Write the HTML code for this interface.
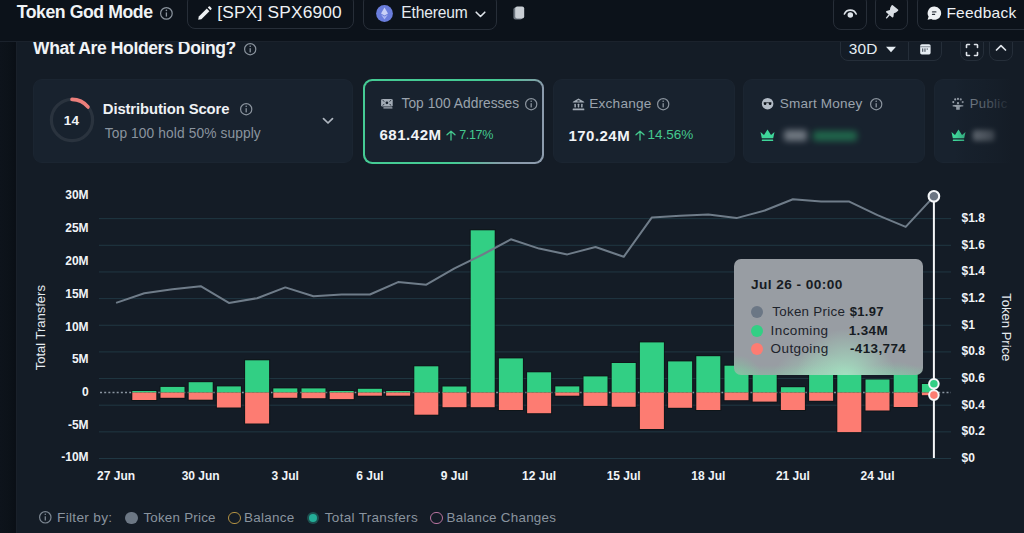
<!DOCTYPE html>
<html><head><meta charset="utf-8"><title>Token God Mode</title><style>*{margin:0;padding:0;box-sizing:border-box}
html,body{width:1024px;height:533px;overflow:hidden;background:#0c121a;font-family:"Liberation Sans",sans-serif}
.a{position:absolute}
.t{position:absolute;line-height:1;white-space:nowrap}
.ax{font-family:"Liberation Sans",sans-serif;font-size:12px;font-weight:700;fill:#f0f3f6}
.axt{font-family:"Liberation Sans",sans-serif;font-size:13px;font-weight:400;fill:#e6ebf0}
.tip{border-radius:7px;background:radial-gradient(ellipse 50px 50px at 112px 120px,rgba(165,230,195,0.95),rgba(165,230,195,0) 100%),radial-gradient(ellipse 40px 30px at 78px 120px,rgba(160,225,190,0.55),rgba(160,225,190,0) 100%),radial-gradient(ellipse 26px 22px at 2px 118px,rgba(120,212,160,0.7),rgba(120,212,160,0) 100%),radial-gradient(ellipse 30px 16px at 160px 118px,rgba(130,212,170,0.45),rgba(130,212,170,0) 100%),linear-gradient(to top,rgba(130,210,165,0.3),rgba(130,210,165,0) 10px),#989da3}
</style></head><body>
<div class="a" style="left:16.0px;top:42.0px;width:1008.0px;height:491.0px;background:#141c26;border-left:1px solid #19202a"></div>
<div class="t" style="left:33.1px;top:39.93px;font-size:17.57px;font-weight:700;color:#f0f3f6;letter-spacing:-0.400px;">What Are Holders Doing?</div>
<svg class="a" style="left:242.6px;top:41.9px" width="14.4" height="14.4" viewBox="-7.2 -7.2 14.4 14.4"><circle r="5.6000000000000005" fill="none" stroke="#8b949e" stroke-width="1.2"/><rect x="-0.65" y="-1" width="1.3" height="4.2" fill="#8b949e"/><circle cy="-3" r="0.8" fill="#8b949e"/></svg>
<div class="a" style="left:840.4px;top:34.0px;width:101.4px;height:26.5px;border:1px solid #252e39;border-radius:8px"></div>
<div class="a" style="left:907.5px;top:34.0px;width:1.0px;height:26.5px;background:#252e39"></div>
<div class="t" style="left:848.7px;top:40.86px;font-size:15.4px;font-weight:400;color:#e6edf3;letter-spacing:0.250px;">30D</div>
<svg class="a" style="left:885px;top:46px" width="12" height="7"><path d="M1 0.8 L11 0.8 L6 6.2 Z" fill="#e6edf3"/></svg>
<svg class="a" style="left:919.6px;top:43.6px" width="11" height="11" viewBox="0 0 11 11"><rect x="0.2" y="0.2" width="10.4" height="10.2" rx="1.6" fill="#e6edf3"/><rect x="0.2" y="2.4" width="10.4" height="0.8" fill="#6a737d"/><rect x="2" y="4.4" width="1.3" height="3.4" fill="#5c6570"/><rect x="4.3" y="4.4" width="1.3" height="3.4" fill="#5c6570"/><rect x="6.6" y="4.4" width="1.3" height="1.3" fill="#5c6570"/></svg>
<div class="a" style="left:960.4px;top:34.0px;width:23.4px;height:26.5px;border:1px solid #252e39;border-radius:8px"></div>
<div class="a" style="left:988.8px;top:34.0px;width:24.6px;height:26.5px;border:1px solid #252e39;border-radius:8px"></div>
<svg class="a" style="left:965.3px;top:42.8px" width="14" height="14" viewBox="0 0 14 14" fill="none" stroke="#dfe4ea" stroke-width="1.6" stroke-linecap="round"><path d="M1.5 4.5V2.2Q1.5 1.5 2.2 1.5H4.5M9.5 1.5H11.8Q12.5 1.5 12.5 2.2V4.5M12.5 9.5V11.8Q12.5 12.5 11.8 12.5H9.5M4.5 12.5H2.2Q1.5 12.5 1.5 11.8V9.5"/></svg>
<svg class="a" style="left:994px;top:43px" width="14" height="10" viewBox="0 0 14 10" fill="none" stroke="#dfe4ea" stroke-width="1.7" stroke-linecap="round" stroke-linejoin="round"><path d="M2.5 7L7 2.6L11.5 7"/></svg>
<div class="a" style="left:33.0px;top:78.8px;width:320.4px;height:84.5px;background:#18222e;border-radius:9px;border:1px solid #1b2531"></div>
<div class="a" style="left:363.4px;top:78.8px;width:180.7px;height:84.8px;background:linear-gradient(117deg,#45cb94 0%,#45cb94 60%,#8a9aab 82%,#8d9cad 100%);border-radius:9px"></div>
<div class="a" style="left:365.2px;top:80.6px;width:177.1px;height:81.2px;background:#18222e;border-radius:7.5px"></div>
<div class="a" style="left:553.1px;top:78.8px;width:181.7px;height:84.5px;background:#18222e;border-radius:9px;border:1px solid #1b2531"></div>
<div class="a" style="left:742.9px;top:78.8px;width:182.3px;height:84.5px;background:#18222e;border-radius:9px;border:1px solid #1b2531"></div>
<div class="a" style="left:933.8px;top:78.8px;width:106.2px;height:84.5px;background:#18222e;border-radius:9px;border:1px solid #1b2531"></div>
<svg class="a" style="left:48px;top:95.5px" width="48" height="48" viewBox="-24 -24 48 48"><circle r="20.6" fill="none" stroke="#2a333e" stroke-width="3.2"/><circle r="20.6" fill="none" stroke="#ec7f7b" stroke-width="3.6" stroke-linecap="round" stroke-dasharray="18.12 129.43" transform="rotate(-90)"/></svg>
<div class="t" style="left:63.7px;top:113.82px;font-size:13.56px;font-weight:700;color:#f0f3f6;letter-spacing:0.400px;">14</div>
<div class="t" style="left:102.8px;top:101.54px;font-size:14.84px;font-weight:700;color:#eef1f4;letter-spacing:-0.112px;">Distribution Score</div>
<svg class="a" style="left:238.6px;top:101.8px" width="14.4" height="14.4" viewBox="-7.2 -7.2 14.4 14.4"><circle r="5.6000000000000005" fill="none" stroke="#8b949e" stroke-width="1.2"/><rect x="-0.65" y="-1" width="1.3" height="4.2" fill="#8b949e"/><circle cy="-3" r="0.8" fill="#8b949e"/></svg>
<div class="t" style="left:104.7px;top:127.25px;font-size:13.76px;font-weight:400;color:#8a949f;letter-spacing:0.109px;">Top 100 hold 50% supply</div>
<svg class="a" style="left:320.5px;top:116.2px" width="14" height="10" viewBox="0 0 14 10" fill="none" stroke="#aeb6bf" stroke-width="1.7" stroke-linecap="round" stroke-linejoin="round"><path d="M2.5 2.6L7 7L11.5 2.6"/></svg>
<svg class="a" style="left:380px;top:98px" width="14" height="12" viewBox="0 0 14 12" fill="#a3acb6"><rect x="1.1" y="0.9" width="11.6" height="7.7" rx="1.4"/><rect x="3.3" y="9.3" width="9.2" height="1.2" rx="0.5"/><circle cx="6.9" cy="4.8" r="1.35" fill="#18222e"/><path d="M2.6 2.2Q3.8 2.6 4.2 3.6M11.2 2.2Q10 2.6 9.6 3.6M2.6 7.3Q3.8 6.9 4.2 5.9M11.2 7.3Q10 6.9 9.6 5.9" stroke="#18222e" stroke-width="0.9" fill="none"/></svg>
<div class="t" style="left:401.5px;top:97.06px;font-size:13.75px;font-weight:400;color:#9aa3ad;letter-spacing:0.038px;">Top 100 Addresses</div>
<svg class="a" style="left:524.4px;top:97.2px" width="14.4" height="14.4" viewBox="-7.2 -7.2 14.4 14.4"><circle r="5.6000000000000005" fill="none" stroke="#8b949e" stroke-width="1.2"/><rect x="-0.65" y="-1" width="1.3" height="4.2" fill="#8b949e"/><circle cy="-3" r="0.8" fill="#8b949e"/></svg>
<div class="t" style="left:379.4px;top:127.47px;font-size:15.04px;font-weight:700;color:#f0f3f6;letter-spacing:0.533px;">681.42M</div>
<svg class="a" style="left:445.4px;top:129.6px" width="12" height="11.0" viewBox="-6 -1 12 11.0"><path d="M0 0.2V9.0M-4.0 3.8L0 0.2L4.0 3.8" fill="none" stroke="#44c98e" stroke-width="1.3" stroke-linecap="round" stroke-linejoin="round"/></svg>
<div class="t" style="left:459.2px;top:129.14px;font-size:12.59px;font-weight:400;color:#44c98e;letter-spacing:-0.375px;">7.17%</div>
<svg class="a" style="left:571.5px;top:97.5px" width="13" height="13" viewBox="0 0 13 13" fill="#a3acb6"><path d="M0.7 4.3Q0.7 3.7 1.3 3.4L6.5 0.6L11.7 3.4Q12.3 3.7 12.3 4.3V4.5H0.7Z"/><ellipse cx="6.5" cy="2.9" rx="1.3" ry="0.55" fill="#18222e"/><rect x="2.4" y="5.8" width="1.5" height="3.6" rx="0.4"/><rect x="5.75" y="5.8" width="1.5" height="3.6" rx="0.4"/><rect x="9.1" y="5.8" width="1.5" height="3.6" rx="0.4"/><rect x="0.7" y="10.6" width="11.6" height="1.6" rx="0.5"/></svg>
<div class="t" style="left:589.2px;top:97.15px;font-size:13.65px;font-weight:400;color:#9aa3ad;letter-spacing:0.229px;">Exchange</div>
<svg class="a" style="left:656.1px;top:97.2px" width="14.4" height="14.4" viewBox="-7.2 -7.2 14.4 14.4"><circle r="5.6000000000000005" fill="none" stroke="#8b949e" stroke-width="1.2"/><rect x="-0.65" y="-1" width="1.3" height="4.2" fill="#8b949e"/><circle cy="-3" r="0.8" fill="#8b949e"/></svg>
<div class="t" style="left:568.5px;top:127.50px;font-size:15.0px;font-weight:700;color:#f0f3f6;letter-spacing:0.467px;">170.24M</div>
<svg class="a" style="left:633.9px;top:129.6px" width="12" height="11.0" viewBox="-6 -1 12 11.0"><path d="M0 0.2V9.0M-4.0 3.8L0 0.2L4.0 3.8" fill="none" stroke="#44c98e" stroke-width="1.3" stroke-linecap="round" stroke-linejoin="round"/></svg>
<div class="t" style="left:647.5px;top:128.46px;font-size:13.51px;font-weight:400;color:#44c98e;letter-spacing:0.000px;">14.56%</div>
<svg class="a" style="left:761px;top:97px" width="13" height="13" viewBox="0 0 13 13"><circle cx="6.6" cy="6.7" r="5.8" fill="#b3bcc6"/><path d="M2.7 5.3H5.4V6.4Q5.4 7.9 4.05 7.9Q2.7 7.9 2.7 6.4Z M7.7 5.3H10.4V6.4Q10.4 7.9 9.05 7.9Q7.7 7.9 7.7 6.4Z" fill="#0c1218"/><rect x="5.3" y="5.4" width="2.5" height="0.7" fill="#0c1218"/></svg>
<div class="t" style="left:779.8px;top:97.23px;font-size:13.55px;font-weight:400;color:#9aa3ad;letter-spacing:0.180px;">Smart Money</div>
<svg class="a" style="left:868.7px;top:96.8px" width="14.4" height="14.4" viewBox="-7.2 -7.2 14.4 14.4"><circle r="5.6000000000000005" fill="none" stroke="#8b949e" stroke-width="1.2"/><rect x="-0.65" y="-1" width="1.3" height="4.2" fill="#8b949e"/><circle cy="-3" r="0.8" fill="#8b949e"/></svg>
<svg class="a" style="left:760px;top:128.5px" width="15" height="12.5" viewBox="0 0 15 12.5"><path d="M0.5 3L4 6L7.5 0.5L11 6L14.5 3L13.2 9.3H1.8Z" fill="#3fd69a"/><rect x="1.8" y="10.4" width="11.4" height="1.7" rx="0.5" fill="#3fd69a"/></svg>
<div class="a" style="left:784.0px;top:130.0px;width:23.0px;height:11.0px;background:#c6ccd2;filter:blur(3px);border-radius:3px;opacity:.5"></div>
<div class="a" style="left:813.0px;top:131.0px;width:44.0px;height:10.0px;background:#27945f;filter:blur(3px);border-radius:3px;opacity:.6"></div>
<svg class="a" style="left:951px;top:97px" width="14" height="14" viewBox="0 0 14 14" fill="#9aa3ad"><circle cx="2.3" cy="5.1" r="1.05"/><circle cx="4.2" cy="2.4" r="1.05"/><circle cx="7" cy="1.9" r="1.05"/><circle cx="9.8" cy="2.4" r="1.05"/><circle cx="11.7" cy="5.1" r="1.05"/><circle cx="7" cy="6.2" r="1.15"/><path d="M1.6 8.2Q7 7.2 12.4 8.2L12.2 9.6Q9.5 9.4 8.8 10V12.8H5.2V10Q4.5 9.4 1.8 9.6Z"/></svg>
<div class="t" style="left:969.8px;top:97.43px;font-size:13.08px;font-weight:400;color:#9aa3ad;letter-spacing:0.350px;">Public</div>
<svg class="a" style="left:950.5px;top:128.5px" width="15" height="12.5" viewBox="0 0 15 12.5"><path d="M0.5 3L4 6L7.5 0.5L11 6L14.5 3L13.2 9.3H1.8Z" fill="#3fd69a"/><rect x="1.8" y="10.4" width="11.4" height="1.7" rx="0.5" fill="#3fd69a"/></svg>
<div class="a" style="left:973.0px;top:130.0px;width:22.0px;height:11.0px;background:#c6ccd2;filter:blur(2.5px);border-radius:3px;opacity:.6"></div>
<div class="a" style="left:955.0px;top:70.0px;width:69.0px;height:105.0px;background:linear-gradient(90deg,rgba(20,28,38,0) 0%,rgba(20,28,38,0.25) 14.5%,rgba(20,28,38,0.5) 43.5%,rgba(20,28,38,0.75) 65%,rgba(20,28,38,1) 83%)"></div>
<svg class="a" style="left:0;top:0" width="1024" height="533"><line x1="99" y1="458.5" x2="951" y2="458.5" stroke="#203743" stroke-width="1"/>
<line x1="99" y1="431.85" x2="951" y2="431.85" stroke="#203743" stroke-width="1"/>
<line x1="99" y1="405.2" x2="951" y2="405.2" stroke="#203743" stroke-width="1"/>
<line x1="99" y1="378.55" x2="951" y2="378.55" stroke="#203743" stroke-width="1"/>
<line x1="99" y1="351.9" x2="951" y2="351.9" stroke="#203743" stroke-width="1"/>
<line x1="99" y1="325.25" x2="951" y2="325.25" stroke="#203743" stroke-width="1"/>
<line x1="99" y1="298.6" x2="951" y2="298.6" stroke="#203743" stroke-width="1"/>
<line x1="99" y1="271.95" x2="951" y2="271.95" stroke="#203743" stroke-width="1"/>
<line x1="99" y1="245.3" x2="951" y2="245.3" stroke="#203743" stroke-width="1"/>
<line x1="99" y1="218.65" x2="951" y2="218.65" stroke="#203743" stroke-width="1"/>
<line x1="100" y1="392.5" x2="951" y2="392.5" stroke="#8a95a1" stroke-width="1.5" stroke-dasharray="2 2.17"/>
<rect x="131.3" y="390" width="26" height="11" fill="#0a100f" opacity="0.55"/>
<rect x="132.3" y="391" width="24" height="1.5" fill="#32cf84"/>
<rect x="132.3" y="392.5" width="24" height="7.5" fill="#fd7c72"/>
<rect x="132.3" y="392" width="24" height="1" fill="#7a8a60" opacity="0.35"/>
<rect x="159.5" y="385.9" width="26" height="12.9" fill="#0a100f" opacity="0.55"/>
<rect x="160.5" y="386.9" width="24" height="5.6" fill="#32cf84"/>
<rect x="160.5" y="392.5" width="24" height="5.3" fill="#fd7c72"/>
<rect x="160.5" y="392" width="24" height="1" fill="#7a8a60" opacity="0.35"/>
<rect x="187.7" y="381.2" width="26" height="19.5" fill="#0a100f" opacity="0.55"/>
<rect x="188.7" y="382.2" width="24" height="10.3" fill="#32cf84"/>
<rect x="188.7" y="392.5" width="24" height="7.2" fill="#fd7c72"/>
<rect x="188.7" y="392" width="24" height="1" fill="#7a8a60" opacity="0.35"/>
<rect x="215.9" y="385.4" width="26" height="23.1" fill="#0a100f" opacity="0.55"/>
<rect x="216.9" y="386.4" width="24" height="6.1" fill="#32cf84"/>
<rect x="216.9" y="392.5" width="24" height="15" fill="#fd7c72"/>
<rect x="216.9" y="392" width="24" height="1" fill="#7a8a60" opacity="0.35"/>
<rect x="244.1" y="359.3" width="26" height="65.2" fill="#0a100f" opacity="0.55"/>
<rect x="245.1" y="360.3" width="24" height="32.2" fill="#32cf84"/>
<rect x="245.1" y="392.5" width="24" height="31" fill="#fd7c72"/>
<rect x="245.1" y="392" width="24" height="1" fill="#7a8a60" opacity="0.35"/>
<rect x="272.3" y="387.4" width="26" height="11.4" fill="#0a100f" opacity="0.55"/>
<rect x="273.3" y="388.4" width="24" height="4.1" fill="#32cf84"/>
<rect x="273.3" y="392.5" width="24" height="5.3" fill="#fd7c72"/>
<rect x="273.3" y="392" width="24" height="1" fill="#7a8a60" opacity="0.35"/>
<rect x="300.5" y="387.4" width="26" height="11.8" fill="#0a100f" opacity="0.55"/>
<rect x="301.5" y="388.4" width="24" height="4.1" fill="#32cf84"/>
<rect x="301.5" y="392.5" width="24" height="5.7" fill="#fd7c72"/>
<rect x="301.5" y="392" width="24" height="1" fill="#7a8a60" opacity="0.35"/>
<rect x="328.7" y="390" width="26" height="10.1" fill="#0a100f" opacity="0.55"/>
<rect x="329.7" y="391" width="24" height="1.5" fill="#32cf84"/>
<rect x="329.7" y="392.5" width="24" height="6.6" fill="#fd7c72"/>
<rect x="329.7" y="392" width="24" height="1" fill="#7a8a60" opacity="0.35"/>
<rect x="356.9" y="387.8" width="26" height="8.9" fill="#0a100f" opacity="0.55"/>
<rect x="357.9" y="388.8" width="24" height="3.7" fill="#32cf84"/>
<rect x="357.9" y="392.5" width="24" height="3.2" fill="#fd7c72"/>
<rect x="357.9" y="392" width="24" height="1" fill="#7a8a60" opacity="0.35"/>
<rect x="385.1" y="390" width="26" height="6.7" fill="#0a100f" opacity="0.55"/>
<rect x="386.1" y="391" width="24" height="1.5" fill="#32cf84"/>
<rect x="386.1" y="392.5" width="24" height="3.2" fill="#fd7c72"/>
<rect x="386.1" y="392" width="24" height="1" fill="#7a8a60" opacity="0.35"/>
<rect x="413.3" y="365.3" width="26" height="50.4" fill="#0a100f" opacity="0.55"/>
<rect x="414.3" y="366.3" width="24" height="26.2" fill="#32cf84"/>
<rect x="414.3" y="392.5" width="24" height="22.2" fill="#fd7c72"/>
<rect x="414.3" y="392" width="24" height="1" fill="#7a8a60" opacity="0.35"/>
<rect x="441.5" y="385.5" width="26" height="22.7" fill="#0a100f" opacity="0.55"/>
<rect x="442.5" y="386.5" width="24" height="6" fill="#32cf84"/>
<rect x="442.5" y="392.5" width="24" height="14.7" fill="#fd7c72"/>
<rect x="442.5" y="392" width="24" height="1" fill="#7a8a60" opacity="0.35"/>
<rect x="469.7" y="229.3" width="26" height="178.9" fill="#0a100f" opacity="0.55"/>
<rect x="470.7" y="230.3" width="24" height="162.2" fill="#32cf84"/>
<rect x="470.7" y="392.5" width="24" height="14.7" fill="#fd7c72"/>
<rect x="470.7" y="392" width="24" height="1" fill="#7a8a60" opacity="0.35"/>
<rect x="497.9" y="357.4" width="26" height="53.6" fill="#0a100f" opacity="0.55"/>
<rect x="498.9" y="358.4" width="24" height="34.1" fill="#32cf84"/>
<rect x="498.9" y="392.5" width="24" height="17.5" fill="#fd7c72"/>
<rect x="498.9" y="392" width="24" height="1" fill="#7a8a60" opacity="0.35"/>
<rect x="526.1" y="371.3" width="26" height="42.9" fill="#0a100f" opacity="0.55"/>
<rect x="527.1" y="372.3" width="24" height="20.2" fill="#32cf84"/>
<rect x="527.1" y="392.5" width="24" height="20.7" fill="#fd7c72"/>
<rect x="527.1" y="392" width="24" height="1" fill="#7a8a60" opacity="0.35"/>
<rect x="554.3" y="385.4" width="26" height="11.3" fill="#0a100f" opacity="0.55"/>
<rect x="555.3" y="386.4" width="24" height="6.1" fill="#32cf84"/>
<rect x="555.3" y="392.5" width="24" height="3.2" fill="#fd7c72"/>
<rect x="555.3" y="392" width="24" height="1" fill="#7a8a60" opacity="0.35"/>
<rect x="582.5" y="375.4" width="26" height="31.5" fill="#0a100f" opacity="0.55"/>
<rect x="583.5" y="376.4" width="24" height="16.1" fill="#32cf84"/>
<rect x="583.5" y="392.5" width="24" height="13.4" fill="#fd7c72"/>
<rect x="583.5" y="392" width="24" height="1" fill="#7a8a60" opacity="0.35"/>
<rect x="610.7" y="362" width="26" height="45.8" fill="#0a100f" opacity="0.55"/>
<rect x="611.7" y="363" width="24" height="29.5" fill="#32cf84"/>
<rect x="611.7" y="392.5" width="24" height="14.3" fill="#fd7c72"/>
<rect x="611.7" y="392" width="24" height="1" fill="#7a8a60" opacity="0.35"/>
<rect x="638.9" y="341.4" width="26" height="88.6" fill="#0a100f" opacity="0.55"/>
<rect x="639.9" y="342.4" width="24" height="50.1" fill="#32cf84"/>
<rect x="639.9" y="392.5" width="24" height="36.5" fill="#fd7c72"/>
<rect x="639.9" y="392" width="24" height="1" fill="#7a8a60" opacity="0.35"/>
<rect x="667.1" y="360.4" width="26" height="48.4" fill="#0a100f" opacity="0.55"/>
<rect x="668.1" y="361.4" width="24" height="31.1" fill="#32cf84"/>
<rect x="668.1" y="392.5" width="24" height="15.3" fill="#fd7c72"/>
<rect x="668.1" y="392" width="24" height="1" fill="#7a8a60" opacity="0.35"/>
<rect x="695.3" y="355.2" width="26" height="55.8" fill="#0a100f" opacity="0.55"/>
<rect x="696.3" y="356.2" width="24" height="36.3" fill="#32cf84"/>
<rect x="696.3" y="392.5" width="24" height="17.5" fill="#fd7c72"/>
<rect x="696.3" y="392" width="24" height="1" fill="#7a8a60" opacity="0.35"/>
<rect x="723.5" y="364.7" width="26" height="36.5" fill="#0a100f" opacity="0.55"/>
<rect x="724.5" y="365.7" width="24" height="26.8" fill="#32cf84"/>
<rect x="724.5" y="392.5" width="24" height="7.7" fill="#fd7c72"/>
<rect x="724.5" y="392" width="24" height="1" fill="#7a8a60" opacity="0.35"/>
<rect x="751.7" y="367" width="26" height="35.6" fill="#0a100f" opacity="0.55"/>
<rect x="752.7" y="368" width="24" height="24.5" fill="#32cf84"/>
<rect x="752.7" y="392.5" width="24" height="9.1" fill="#fd7c72"/>
<rect x="752.7" y="392" width="24" height="1" fill="#7a8a60" opacity="0.35"/>
<rect x="779.9" y="386.2" width="26" height="24.8" fill="#0a100f" opacity="0.55"/>
<rect x="780.9" y="387.2" width="24" height="5.3" fill="#32cf84"/>
<rect x="780.9" y="392.5" width="24" height="17.5" fill="#fd7c72"/>
<rect x="780.9" y="392" width="24" height="1" fill="#7a8a60" opacity="0.35"/>
<rect x="808.1" y="345" width="26" height="56.8" fill="#0a100f" opacity="0.55"/>
<rect x="809.1" y="346" width="24" height="46.5" fill="#32cf84"/>
<rect x="809.1" y="392.5" width="24" height="8.3" fill="#fd7c72"/>
<rect x="809.1" y="392" width="24" height="1" fill="#7a8a60" opacity="0.35"/>
<rect x="836.3" y="339" width="26" height="94.1" fill="#0a100f" opacity="0.55"/>
<rect x="837.3" y="340" width="24" height="52.5" fill="#32cf84"/>
<rect x="837.3" y="392.5" width="24" height="39.6" fill="#fd7c72"/>
<rect x="837.3" y="392" width="24" height="1" fill="#7a8a60" opacity="0.35"/>
<rect x="864.5" y="378.5" width="26" height="33" fill="#0a100f" opacity="0.55"/>
<rect x="865.5" y="379.5" width="24" height="13" fill="#32cf84"/>
<rect x="865.5" y="392.5" width="24" height="18" fill="#fd7c72"/>
<rect x="865.5" y="392" width="24" height="1" fill="#7a8a60" opacity="0.35"/>
<rect x="892.7" y="365" width="26" height="43" fill="#0a100f" opacity="0.55"/>
<rect x="893.7" y="366" width="24" height="26.5" fill="#32cf84"/>
<rect x="893.7" y="392.5" width="24" height="14.5" fill="#fd7c72"/>
<rect x="893.7" y="392" width="24" height="1" fill="#7a8a60" opacity="0.35"/>
<rect x="920.9" y="383" width="14" height="13.2" fill="#0a100f" opacity="0.55"/>
<rect x="921.9" y="384" width="12" height="8.5" fill="#32cf84"/>
<rect x="921.9" y="392.5" width="12" height="2.7" fill="#fd7c72"/>
<rect x="921.9" y="392" width="12" height="1" fill="#7a8a60" opacity="0.35"/>
<polyline points="116.1,302.9 144.3,293.3 172.5,289.3 200.7,286.2 228.9,302.9 257.1,298.2 285.3,287.4 313.5,296.3 341.7,294.5 369.9,294.5 398.1,282.1 426.3,284.7 454.5,268.3 482.7,254.5 510.9,239.3 539.1,248.6 567.3,254.4 595.5,247 623.7,256.8 651.9,217.4 680.1,215.8 708.3,214.6 736.5,218.1 764.7,210.5 792.9,199.2 821.1,201.6 849.3,201.6 877.5,215.2 905.7,226.9 933.9,196.4" fill="none" stroke="#6f7c89" stroke-width="2" stroke-linejoin="round"/>
<line x1="933.9" y1="196" x2="933.9" y2="458" stroke="#f4f6f8" stroke-width="2"/>
<circle cx="933.9" cy="196.3" r="5.3" fill="#6b7582" stroke="#f4f6f8" stroke-width="2.1"/>
<circle cx="933.9" cy="383.8" r="4.8" fill="#32cf84" stroke="#f4f6f8" stroke-width="2"/>
<circle cx="933.9" cy="395.1" r="4.8" fill="#fd7c72" stroke="#f4f6f8" stroke-width="2"/>
<text x="88.6" y="199.3" text-anchor="end" class="ax">30M</text>
<text x="88.6" y="232.1" text-anchor="end" class="ax">25M</text>
<text x="88.6" y="265.3" text-anchor="end" class="ax">20M</text>
<text x="88.6" y="298" text-anchor="end" class="ax">15M</text>
<text x="88.6" y="330.5" text-anchor="end" class="ax">10M</text>
<text x="88.6" y="363.1" text-anchor="end" class="ax">5M</text>
<text x="88.6" y="396.4" text-anchor="end" class="ax">0</text>
<text x="88.6" y="428.9" text-anchor="end" class="ax">-5M</text>
<text x="88.6" y="461.4" text-anchor="end" class="ax">-10M</text>
<text x="961.5" y="461.9" class="ax">$0</text>
<text x="961.5" y="435.25" class="ax">$0.2</text>
<text x="961.5" y="408.6" class="ax">$0.4</text>
<text x="961.5" y="381.95" class="ax">$0.6</text>
<text x="961.5" y="355.3" class="ax">$0.8</text>
<text x="961.5" y="328.65" class="ax">$1</text>
<text x="961.5" y="302" class="ax">$1.2</text>
<text x="961.5" y="275.35" class="ax">$1.4</text>
<text x="961.5" y="248.7" class="ax">$1.6</text>
<text x="961.5" y="222.05" class="ax">$1.8</text>
<text x="116.1" y="479.6" text-anchor="middle" class="ax">27 Jun</text>
<text x="200.7" y="479.6" text-anchor="middle" class="ax">30 Jun</text>
<text x="285.3" y="479.6" text-anchor="middle" class="ax">3 Jul</text>
<text x="369.9" y="479.6" text-anchor="middle" class="ax">6 Jul</text>
<text x="454.5" y="479.6" text-anchor="middle" class="ax">9 Jul</text>
<text x="539.1" y="479.6" text-anchor="middle" class="ax">12 Jul</text>
<text x="623.7" y="479.6" text-anchor="middle" class="ax">15 Jul</text>
<text x="708.3" y="479.6" text-anchor="middle" class="ax">18 Jul</text>
<text x="792.9" y="479.6" text-anchor="middle" class="ax">21 Jul</text>
<text x="877.5" y="479.6" text-anchor="middle" class="ax">24 Jul</text>
<text transform="translate(44.8,327.7) rotate(-90)" text-anchor="middle" class="axt">Total Transfers</text>
<text transform="translate(1001.8,327.3) rotate(90)" text-anchor="middle" class="axt">Token Price</text></svg>
<div class="a tip" style="left:734px;top:259.2px;width:188.9px;height:115.8px"></div>
<div class="t" style="left:750.9px;top:277.55px;font-size:13.65px;font-weight:700;color:#161b22;letter-spacing:0.446px;">Jul 26 - 00:00</div>
<div class="a" style="left:750.9px;top:305.5px;width:12.2px;height:12.2px;border-radius:50%;background:#6b7785"></div>
<div class="t" style="left:772.3px;top:304.80px;font-size:13.35px;font-weight:400;color:#1d232b;letter-spacing:0.280px;">Token Price</div>
<div class="t" style="left:849.7px;top:305.07px;font-size:13.03px;font-weight:700;color:#161b22;letter-spacing:0.300px;">$1.97</div>
<div class="a" style="left:750.9px;top:324.5px;width:12.2px;height:12.2px;border-radius:50%;background:#32cf84"></div>
<div class="t" style="left:770.6px;top:323.76px;font-size:13.52px;font-weight:400;color:#1d232b;letter-spacing:0.386px;">Incoming</div>
<div class="t" style="left:848.7px;top:323.80px;font-size:13.47px;font-weight:700;color:#161b22;letter-spacing:0.400px;">1.34M</div>
<div class="a" style="left:750.9px;top:343.0px;width:12.2px;height:12.2px;border-radius:50%;background:#fd7c72"></div>
<div class="t" style="left:770.6px;top:342.06px;font-size:13.52px;font-weight:400;color:#1d232b;letter-spacing:0.386px;">Outgoing</div>
<div class="t" style="left:850.0px;top:342.16px;font-size:13.4px;font-weight:700;color:#161b22;letter-spacing:0.414px;">-413,774</div>
<svg class="a" style="left:37.8px;top:510.3px" width="14.6" height="14.6" viewBox="-7.3 -7.3 14.6 14.6"><circle r="5.7" fill="none" stroke="#7d8792" stroke-width="1.2"/><rect x="-0.65" y="-1" width="1.3" height="4.2" fill="#7d8792"/><circle cy="-3" r="0.8" fill="#7d8792"/></svg>
<div class="t" style="left:57.0px;top:510.71px;font-size:13.69px;font-weight:400;color:#8a949f;letter-spacing:0.289px;">Filter by:</div>
<div class="a" style="left:124.9px;top:511.7px;width:12.8px;height:12.8px;border-radius:50%;background:#6c7784"></div>
<div class="t" style="left:143.4px;top:510.99px;font-size:13.36px;font-weight:400;color:#8a949f;letter-spacing:0.230px;">Token Price</div>
<div class="a" style="left:228px;top:511.7px;width:12.8px;height:12.8px;border-radius:50%;border:1.6px solid #b39243"></div>
<div class="t" style="left:244.0px;top:510.91px;font-size:13.46px;font-weight:400;color:#8a949f;letter-spacing:0.267px;">Balance</div>
<div class="a" style="left:306.5px;top:511.5px;width:12.8px;height:12.8px;border-radius:50%;background:#1d4f4f"><div style="position:absolute;left:2.4px;top:2.4px;width:8px;height:8px;border-radius:50%;background:#24ae98"></div></div>
<div class="t" style="left:324.8px;top:510.87px;font-size:13.5px;font-weight:400;color:#8a949f;letter-spacing:0.307px;">Total Transfers</div>
<div class="a" style="left:430.4px;top:511.7px;width:12.8px;height:12.8px;border-radius:50%;border:1.6px solid #b8739f"></div>
<div class="t" style="left:446.6px;top:510.97px;font-size:13.38px;font-weight:400;color:#8a949f;letter-spacing:0.271px;">Balance Changes</div>
<div class="a" style="left:0.0px;top:0.0px;width:1024.0px;height:41.0px;background:#0c121a"></div>
<div class="a" style="left:0.0px;top:41.0px;width:1024.0px;height:1.0px;background:#1b222c"></div>
<div class="a" style="left:0.0px;top:42.0px;width:16.0px;height:491.0px;background:linear-gradient(90deg,#0d131b 0px,#0c1219 8px,#0a0f16 15px,#0a0f16 16px)"></div>
<div class="t" style="left:16.7px;top:3.86px;font-size:17.71px;font-weight:700;color:#f0f3f6;letter-spacing:-0.446px;">Token God Mode</div>
<svg class="a" style="left:158.7px;top:5.9px" width="14.8" height="14.8" viewBox="-7.4 -7.4 14.8 14.8"><circle r="5.800000000000001" fill="none" stroke="#8b949e" stroke-width="1.2"/><rect x="-0.65" y="-1" width="1.3" height="4.2" fill="#8b949e"/><circle cy="-3" r="0.8" fill="#8b949e"/></svg>
<div class="a" style="left:187.2px;top:-6.0px;width:166.7px;height:35.4px;border:1px solid #272e38;border-radius:8px"></div>
<svg class="a" style="left:197px;top:6px" width="15" height="15" viewBox="0 0 15 15"><path d="M1.2 13.8L1.8 10.6L9.8 2.6L12.4 5.2L4.4 13.2Z" fill="#eef1f4"/><path d="M10.8 1.6L11.8 0.6Q12.4 0 13 0.6L14.4 2Q15 2.6 14.4 3.2L13.4 4.2Z" fill="#eef1f4"/></svg>
<div class="t" style="left:217.2px;top:4.00px;font-size:17.37px;font-weight:400;color:#eef1f4;letter-spacing:0.167px;">[SPX] SPX6900</div>
<div class="a" style="left:363.4px;top:-6.0px;width:133.7px;height:35.8px;border:1px solid #272e38;border-radius:8px"></div>
<svg class="a" style="left:375.9px;top:4.8px" width="17" height="17" viewBox="0 0 17 17"><circle cx="8.5" cy="8.5" r="8.4" fill="#6a7ddc"/><path d="M8.5 2.6L12 8.6L8.5 10.6L5 8.6Z" fill="#c9d1f7"/><path d="M8.5 11.4L12 9.4L8.5 14.4L5 9.4Z" fill="#aab6f2"/></svg>
<div class="t" style="left:401.2px;top:4.70px;font-size:15.59px;font-weight:400;color:#e6ebf0;letter-spacing:-0.129px;">Ethereum</div>
<svg class="a" style="left:475px;top:10.5px" width="11" height="7" viewBox="0 0 11 7" fill="none" stroke="#dfe4ea" stroke-width="1.6" stroke-linecap="round" stroke-linejoin="round"><path d="M1.2 1.2L5.5 5.5L9.8 1.2"/></svg>
<svg class="a" style="left:512.5px;top:6px" width="12" height="14" viewBox="0 0 12 14"><rect x="0.4" y="1.4" width="9" height="12.2" rx="2" fill="#6f7781"/><rect x="2.2" y="0.4" width="9" height="12.2" rx="2" fill="#c9ced4"/></svg>
<div class="a" style="left:833.2px;top:-6.0px;width:33.8px;height:35.8px;border:1px solid #272e38;border-radius:8px"></div>
<div class="a" style="left:875.2px;top:-6.0px;width:32.8px;height:35.8px;border:1px solid #272e38;border-radius:8px"></div>
<div class="a" style="left:916.6px;top:-6.0px;width:123.4px;height:35.8px;border:1px solid #272e38;border-radius:8px"></div>
<svg class="a" style="left:843px;top:8px" width="15" height="11" viewBox="0 0 15 11"><path d="M1.4 6A6.4 6.4 0 0 1 13.2 6" fill="none" stroke="#dde2e8" stroke-width="1.6" stroke-linecap="round"/><circle cx="7.3" cy="6.9" r="2.75" fill="#dde2e8"/></svg>
<svg class="a" style="left:875px;top:0" width="34" height="30"><g transform="translate(16.8,11.7) rotate(40) translate(0,-5.6)" fill="#d9dee4"><path d="M-4.2,0.8Q-4.2,0 -3.4,0H3.4Q4.2,0 4.2,0.8L3.7,3.6L2.6,5.4L4.5,8.4Q4.9,9.7 3.7,9.7H-3.7Q-4.9,9.7 -4.5,8.4L-2.6,5.4L-3.7,3.6Z"/><rect x="-0.7" y="9.3" width="1.4" height="5" rx="0.6"/></g></svg>
<svg class="a" style="left:926.8px;top:6px" width="15" height="15" viewBox="0 0 15 15"><path d="M7.6 0.6A6.6 6.6 0 1 1 4.2 12.9L0.6 13.8L1.6 10.6A6.6 6.6 0 0 1 7.6 0.6Z" fill="#eef1f4"/><rect x="4.9" y="5.2" width="4.6" height="1.3" rx="0.6" fill="#3a4048"/><rect x="4.9" y="7.8" width="3.3" height="1.3" rx="0.6" fill="#2a3038"/></svg>
<div class="t" style="left:946.4px;top:4.73px;font-size:15.56px;font-weight:400;color:#eef1f4;letter-spacing:0.229px;">Feedback</div>
</body></html>
